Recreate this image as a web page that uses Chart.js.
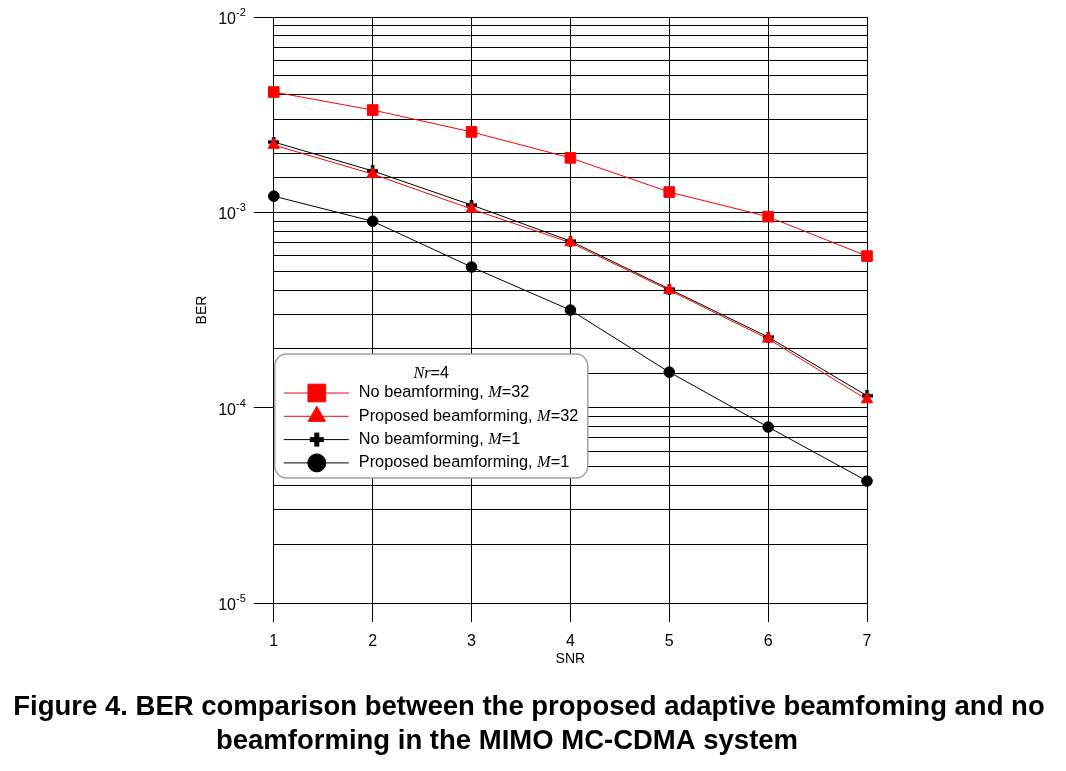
<!DOCTYPE html>
<html>
<head>
<meta charset="utf-8">
<script src="https://cdn.jsdelivr.net/npm/chart.js@4.4.1/dist/chart.umd.min.js"></script>
<style>
  html, body { margin: 0; padding: 0; background: #fff; }
  #wrap { width: 1066px; height: 771px; }
</style>
</head>
<body>
<div id="wrap"><canvas id="berChart" width="1066" height="771"></canvas></div>
<script>
// values (BER vs SNR, Nr=4)
const snr = [1, 2, 3, 4, 5, 6, 7];
const noBfM32 = [4.13e-3, 3.34e-3, 2.58e-3, 1.90e-3, 1.27e-3, 9.5e-4, 5.97e-4];
const propBfM32 = [2.21e-3, 1.57e-3, 1.04e-3, 7.0e-4, 3.99e-4, 2.25e-4, 1.10e-4];
const noBfM1 = [2.29e-3, 1.63e-3, 1.09e-3, 7.13e-4, 4.05e-4, 2.30e-4, 1.15e-4];
const propBfM1 = [1.21e-3, 9.0e-4, 5.25e-4, 3.16e-4, 1.52e-4, 7.96e-5, 4.21e-5];

const decadeTicks = [1e-2, 1e-3, 1e-4, 1e-5];
const decadeExp = ['-2', '-3', '-4', '-5'];

const seriesNames = [
  ['No beamforming, ', 'M', '=32'],
  ['Proposed beamforming, ', 'M', '=32'],
  ['No beamforming, ', 'M', '=1'],
  ['Proposed beamforming, ', 'M', '=1']
];
const legendTitle = ['Nr', '=4'];
const captionLines = [
  'Figure 4. BER comparison between the proposed adaptive beamfoming and no',
  'beamforming in the MIMO MC-CDMA system'
];

const SANS = '"Liberation Sans", Arial, sans-serif';
const SERIF = '"Liberation Serif", "Times New Roman", serif';

const toPoints = (ys) => snr.map((x, i) => ({ x, y: ys[i] }));
const isDecade = (v) => Math.abs(Math.log10(v) - Math.round(Math.log10(v))) < 1e-6;

// thick plus sign, the built-in 'cross' came out too thin
function plusCanvas(size, thick) {
  const c = document.createElement('canvas');
  c.width = size;
  c.height = size;
  const g = c.getContext('2d');
  g.fillStyle = '#000';
  const o = (size - thick) / 2;
  g.fillRect(o, 0, thick, size);
  g.fillRect(0, o, size, thick);
  return c;
}
const plusSmall = plusCanvas(11, 3.5);

// legend marker sizes are bigger than the ones on the curves
const legendRadius = [12.5, 10, 7, 9];
const LEGEND_FONT = 16.3;

// draw "plain italic plain" text, italic part in serif
function drawRich(ctx, parts, x, y, size) {
  const fonts = [`${size}px ${SANS}`, `italic ${size}px ${SERIF}`, `${size}px ${SANS}`];
  let cx = x;
  parts.forEach((t, i) => {
    ctx.font = fonts[i % 3];
    ctx.fillText(t, cx, y);
    cx += ctx.measureText(t).width;
  });
  return cx - x;
}

const extrasPlugin = {
  id: 'extras',
  afterDraw(chart) {
    const ctx = chart.ctx;
    const area = chart.chartArea;
    const yScale = chart.scales.y;

    // y tick labels 10^n
    ctx.save();
    ctx.fillStyle = '#000';
    ctx.textBaseline = 'alphabetic';
    ctx.textAlign = 'right';
    decadeTicks.forEach((v, i) => {
      const py = yScale.getPixelForValue(v);
      const right = area.left - 28;
      ctx.font = `11px ${SANS}`;
      const ew = ctx.measureText(decadeExp[i]).width;
      ctx.fillText(decadeExp[i], right, py - 1);
      ctx.font = `16px ${SANS}`;
      ctx.fillText('10', right - ew, py + 7);
    });
    ctx.restore();

    // legend box inside the plot
    const bx = area.left + 1, by = area.top + 337, bw = 313, bh = 124;
    ctx.save();
    ctx.fillStyle = '#fff';
    ctx.strokeStyle = '#a0a0a0';
    ctx.lineWidth = 1.5;
    ctx.beginPath();
    ctx.roundRect(bx, by, bw, bh, 12);
    ctx.fill();
    ctx.stroke();

    ctx.fillStyle = '#000';
    ctx.textBaseline = 'middle';
    ctx.textAlign = 'left';
    // title, centred
    ctx.font = `italic ${LEGEND_FONT}px ${SERIF}`;
    const w0 = ctx.measureText(legendTitle[0]).width;
    ctx.font = `${LEGEND_FONT}px ${SANS}`;
    const tw = w0 + ctx.measureText(legendTitle[1]).width;
    const tx = bx + bw / 2 - tw / 2;
    ctx.font = `italic ${LEGEND_FONT}px ${SERIF}`;
    ctx.fillText(legendTitle[0], tx, by + 20);
    ctx.font = `${LEGEND_FONT}px ${SANS}`;
    ctx.fillText(legendTitle[1], tx + w0, by + 20);

    chart.data.datasets.forEach((ds, i) => {
      const ry = by + 39 + i * 23.3;
      const mx = bx + 42;
      ctx.strokeStyle = ds.borderColor;
      ctx.lineWidth = 1;
      ctx.beginPath();
      ctx.moveTo(bx + 9, ry);
      ctx.lineTo(bx + 74, ry);
      ctx.stroke();
      if (ds.pointStyle instanceof HTMLCanvasElement) {
        const r = legendRadius[i];
        ctx.fillStyle = '#000';
        ctx.fillRect(mx - 2.5, ry - r, 5, 2 * r);
        ctx.fillRect(mx - r, ry - 2.5, 2 * r, 5);
      } else {
        ctx.fillStyle = ds.pointBackgroundColor;
        ctx.strokeStyle = ds.pointBorderColor;
        Chart.helpers.drawPoint(ctx, {
          pointStyle: ds.pointStyle,
          radius: legendRadius[i],
          rotation: 0,
          borderWidth: 1
        }, mx, ry);
      }
      ctx.fillStyle = '#000';
      drawRich(ctx, seriesNames[i], bx + 84, ry, LEGEND_FONT);
    });
    ctx.restore();

    // caption under the figure (second line sits a bit left in the original)
    ctx.save();
    ctx.fillStyle = '#000';
    ctx.font = `bold 27.5px ${SANS}`;
    ctx.textAlign = 'center';
    ctx.textBaseline = 'middle';
    ctx.fillText(captionLines[0], 529, 707);
    ctx.fillText(captionLines[1], 507, 741);
    ctx.restore();
  }
};

new Chart(document.getElementById('berChart'), {
  type: 'line',
  data: {
    datasets: [
      {
        label: 'No beamforming, M=32',
        data: toPoints(noBfM32),
        borderColor: '#ff0000',
        borderWidth: 1,
        pointStyle: 'rect',
        pointRadius: 7.5,
        pointBackgroundColor: '#ff0000',
        pointBorderColor: '#ff0000',
        pointBorderWidth: 1,
        clip: false
      },
      {
        label: 'Proposed beamforming, M=32',
        data: toPoints(propBfM32),
        borderColor: '#ff0000',
        borderWidth: 1,
        pointStyle: 'triangle',
        pointRadius: 6.5,
        pointBackgroundColor: '#ff0000',
        pointBorderColor: '#ff0000',
        pointBorderWidth: 1,
        clip: false
      },
      {
        label: 'No beamforming, M=1',
        data: toPoints(noBfM1),
        borderColor: '#000000',
        borderWidth: 1,
        pointStyle: plusSmall,
        pointRadius: 5.5,
        pointBackgroundColor: '#000000',
        pointBorderColor: '#000000',
        pointBorderWidth: 1,
        clip: false
      },
      {
        label: 'Proposed beamforming, M=1',
        data: toPoints(propBfM1),
        borderColor: '#000000',
        borderWidth: 1,
        pointStyle: 'circle',
        pointRadius: 5.3,
        pointBackgroundColor: '#000000',
        pointBorderColor: '#000000',
        pointBorderWidth: 1,
        clip: false
      }
    ]
  },
  options: {
    responsive: false,
    animation: false,
    devicePixelRatio: 1,
    layout: { padding: { left: 194, right: 199, top: 17, bottom: 103 } },
    plugins: {
      legend: { display: false },
      tooltip: { enabled: false }
    },
    scales: {
      x: {
        type: 'linear',
        min: 1,
        max: 7,
        ticks: {
          stepSize: 1,
          padding: 10,
          color: '#000',
          font: { family: SANS, size: 16 }
        },
        grid: { color: '#000', lineWidth: 1, tickLength: 19, tickColor: '#000' },
        border: { color: '#000', width: 1 },
        title: {
          display: true,
          text: 'SNR',
          color: '#000',
          font: { family: SANS, size: 14 },
          padding: { top: -10, bottom: 0 }
        }
      },
      y: {
        type: 'logarithmic',
        min: 1e-5,
        max: 1e-2,
        ticks: { display: false },
        grid: {
          color: '#000',
          lineWidth: 1,
          tickLength: 20,
          tickColor: (c) => (c.tick && isDecade(c.tick.value) ? '#000' : 'rgba(0,0,0,0)')
        },
        border: { color: '#000', width: 1 },
        title: {
          display: true,
          text: 'BER',
          color: '#000',
          font: { family: SANS, size: 14 },
          padding: { top: 0, bottom: 43 }
        }
      }
    }
  },
  plugins: [extrasPlugin]
});
</script>
</body>
</html>
